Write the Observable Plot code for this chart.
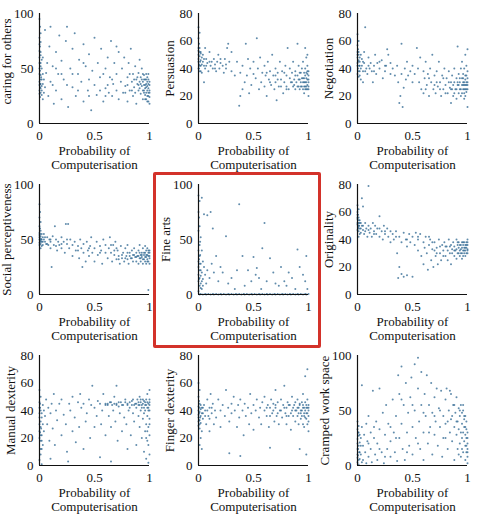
<!DOCTYPE html>
<html>
<head>
<meta charset="utf-8">
<script src="https://cdn.jsdelivr.net/npm/d3@7"></script>
<script src="https://cdn.jsdelivr.net/npm/@observablehq/plot@0.6"></script>
<style>
  html, body { margin: 0; padding: 0; background: #fff; }
  #wrap { position: relative; width: 480px; height: 515px; overflow: hidden; background: #fff; }
  .cell { position: absolute; overflow: visible; }
  #wrap svg, #wrap svg text { font-family: "Liberation Serif", "Times New Roman", serif !important; font-size: 13px !important; }
  #box { position: absolute; left: 153px; top: 172px; width: 168px; height: 176px; box-sizing: border-box; border: 3px solid #d3322a; border-radius: 2px; }
</style>
</head>
<body>
<div id="wrap"><div id="box"></div></div>
<script>
// ---- data (x = probability of computerisation, y = skill score) ----
const caring = [[0,95],[0.005,88],[0.01,82],[0,78],[0.01,74],[0.005,70],[0,66],[0.01,62],[0.02,58],[0,55],[0.01,52],[0.005,48],[0,45],[0.015,42],[0.01,40],[0,38],[0.005,36],[0.02,34],[0.01,32],[0,30],[0.01,28],[0.02,26],[0.005,24],[0.03,22],[0.01,44],[0.02,50],[0.03,60],[0,72],[0.02,30],[0.03,36],[0.04,40],[0.04,28],[0.05,33],[0.05,85],[0.06,46],[0.07,55],[0.08,25],[0.09,70],[0.1,38],[0.1,88],
[0.12,52],[0.13,18],[0.15,30],[0.15,65],[0.17,45],[0.18,80],[0.2,22],[0.2,57],[0.22,40],[0.24,75],[0.25,88],[0.26,15],[0.28,50],[0.3,33],[0.3,68],[0.32,82],[0.33,25],[0.35,45],[0.36,58],[0.38,38],[0.4,72],[0.4,20],[0.42,52],[0.44,30],[0.45,63],[0.47,12],[0.48,48],[0.5,35],[0.5,78],[0.52,26],[0.53,55],[0.55,42],[0.56,68],[0.58,20],[0.6,50],[0.6,32],[0.62,60],[0.63,28],[0.64,42],[0.65,75],[0.66,25],[0.67,36],[0.68,55],[0.7,30],[0.7,45],[0.72,65],[0.72,22],[0.74,38],[0.75,50],[0.76,28],[0.77,60],[0.78,34],[0.8,42],[0.8,20],[0.81,55],[0.82,30],[0.83,68],[0.84,38],[0.85,45],[0.85,25],[0.86,33],[0.87,52],[0.88,40],[0.88,18],[0.89,36],[0.9,30],[0.9,46],[0.91,58],[0.91,38],[0.92,27],[0.92,42],[0.93,34],[0.93,50],[0.94,22],[0.94,38],[0.95,30],[0.95,44],[0.95,35],[0.96,26],[0.96,40],[0.96,32],[0.97,28],[0.97,36],[0.97,45],[0.97,22],[0.98,30],[0.98,38],[0.98,25],[0.98,34],[0.99,28],[0.99,40],[0.99,20],[0.99,32],[0.99,36],[1,30],[1,24],[1,38],[1,18],
[0.9,35],[0.91,32],[0.92,36],[0.93,40],[0.94,30],[0.94,45],[0.95,28],[0.95,40],[0.96,35],[0.96,22],[0.97,33],[0.97,40],[0.98,20],[0.98,42],[0.99,25],[0.99,45],[1,35],[1,28],[0.89,42],[0.87,28],[0.86,40],[0.84,30],[0.82,45],[0.8,35],[0.78,28],[0,35],[0,50],[0,60],[0.01,65],[0.01,36],[0.005,33],[0.02,40],[0,27],[0.03,45],[0.01,55],[0.66,40],[0.62,35],[0.58,45],[0.55,30],[0.45,40],[0.4,55],[0.3,45],[0.25,35],[0.2,45],[0.15,50],[0.12,35],[0.35,30],[0.45,25],[0.7,70],[0.6,25]];

const persuasion = [[0,70],[0.01,66],[0,62],[0.005,58],[0.01,55],[0,53],[0.02,51],[0.01,49],[0,47],[0.015,45],[0.005,43],[0.02,42],[0,40],[0.01,38],[0.03,37],[0.02,52],[0.03,48],[0.04,45],[0.05,42],[0.04,50],[0.06,40],[0.07,47],[0.06,55],[0.08,44],[0.05,30],[0.09,38],[0.1,52],[0.11,42],[0.12,45],[0.13,40],[0.14,47],[0.15,43],[0.16,38],[0.17,45],[0.18,50],[0.19,40],[0.2,44],[0.22,42],[0.23,37],[0.24,47],[0.25,40],[0.26,55],[0.27,58],[0.28,45],[0.3,38],[0.3,52],
[0.33,35],[0.35,45],[0.37,13],[0.38,20],[0.38,37],[0.4,25],[0.4,42],[0.42,30],[0.43,58],[0.44,35],[0.45,47],[0.46,22],[0.47,40],[0.48,28],[0.5,36],[0.5,45],
[0.52,33],[0.53,62],[0.54,40],[0.55,25],[0.56,48],[0.57,30],[0.58,37],[0.6,42],[0.6,27],[0.61,35],[0.62,20],[0.63,45],[0.64,32],[0.65,38],[0.66,28],[0.67,50],[0.68,35],[0.69,25],[0.7,40],[0.7,30],[0.71,17],[0.72,37],[0.73,27],[0.74,45],[0.75,32],[0.76,38],[0.77,22],[0.78,30],[0.79,42],[0.8,27],[0.8,35],[0.81,55],[0.82,25],[0.83,40],[0.84,30],[0.85,37],
[0.86,27],[0.86,45],[0.87,32],[0.88,25],[0.88,38],[0.89,30],[0.9,35],[0.9,58],[0.91,27],[0.91,42],[0.92,32],[0.92,25],[0.93,37],[0.93,30],[0.94,27],[0.94,40],[0.95,33],[0.95,25],[0.95,45],[0.96,30],[0.96,37],[0.96,22],[0.97,27],[0.97,35],[0.97,40],[0.98,30],[0.98,25],[0.98,33],[0.98,48],[0.99,28],[0.99,36],[0.99,32],[0.99,42],[1,30],[1,25],[1,35],[1,38],[1,20],[0.97,55],[0.99,50],
[0.9,27],[0.91,32],[0.92,37],[0.93,27],[0.94,33],[0.95,30],[0.96,27],[0.96,33],[0.97,30],[0.97,25],[0.98,37],[0.98,27],[0.99,25],[0.99,38],[1,27],[1,32],[0.88,35],[0.87,28],[0.85,30],[0.83,33],[0.8,25],[0.78,37],[0.75,27],[0.72,32],[0.7,35],[0.65,30],[0.62,37],[0,45],[0,50],[0.01,42],[0.01,52],[0.005,40],[0.02,46],[0,55],[0.02,38],[0.03,43],[0.05,47],[0.07,42],[0.1,45],[0.15,40],[0.2,47],[0.25,43]];

const negotiation = [[0,65],[0.01,60],[0,57],[0.005,54],[0.01,52],[0,50],[0.02,48],[0.01,46],[0,44],[0.015,42],[0.005,40],[0.02,38],[0,36],[0.01,34],[0.03,32],[0.02,45],[0.03,50],[0.04,42],[0.05,38],[0.04,47],[0.06,44],[0.07,70],[0.06,52],[0.08,40],[0.05,30],[0.09,36],[0.1,48],[0.11,40],[0.12,44],[0.13,38],[0.14,30],[0.15,42],[0.16,50],[0.17,36],[0.18,44],[0.2,40],[0.22,46],[0.23,33],[0.25,38],[0.26,42],[0.27,54],[0.28,50],[0.3,36],[0.3,44],[0.32,40],[0.34,35],
[0.36,42],[0.37,30],[0.38,15],[0.39,20],[0.4,58],[0.4,36],[0.41,12],[0.42,26],[0.43,40],[0.44,32],[0.45,45],[0.46,35],[0.48,38],[0.5,30],[0.5,42],
[0.52,36],[0.54,55],[0.55,40],[0.56,30],[0.57,48],[0.58,25],[0.6,38],[0.6,22],[0.61,33],[0.62,45],[0.63,28],[0.64,36],[0.65,20],[0.66,40],[0.67,30],[0.68,50],[0.69,25],[0.7,35],[0.71,22],[0.72,38],[0.73,27],[0.74,45],[0.75,30],[0.76,20],[0.77,35],[0.78,25],[0.79,40],[0.8,28],[0.81,33],[0.82,22],[0.83,38],[0.84,26],[0.85,30],[0.85,15],
[0.86,35],[0.86,25],[0.87,20],[0.88,30],[0.88,40],[0.89,25],[0.9,33],[0.9,18],[0.91,28],[0.91,56],[0.92,22],[0.92,36],[0.93,30],[0.93,25],[0.94,40],[0.94,20],[0.95,28],[0.95,33],[0.95,45],[0.96,25],[0.96,30],[0.96,36],[0.97,22],[0.97,28],[0.97,40],[0.98,25],[0.98,32],[0.98,20],[0.98,50],[0.99,28],[0.99,35],[0.99,23],[0.99,42],[1,30],[1,25],[1,12],[1,38],[1,54],[0.97,18],
[0.9,25],[0.91,30],[0.92,28],[0.93,33],[0.94,25],[0.95,22],[0.96,28],[0.96,33],[0.97,25],[0.97,30],[0.98,28],[0.98,35],[0.99,25],[0.99,30],[1,28],[1,33],[0.88,22],[0.87,28],[0.85,25],[0.83,30],[0.8,22],[0.78,33],[0.75,25],[0.72,30],[0.7,28],[0.65,33],[0.62,25],[0,42],[0,48],[0.01,38],[0.01,50],[0.005,45],[0.02,42],[0,52],[0.02,35],[0.03,40],[0.05,45],[0.07,38],[0.1,42],[0.15,38],[0.2,45],[0.25,42]];

const socialPerceptiveness = [[0,82],[0.005,75],[0,70],[0.01,66],[0,62],[0.005,60],[0.01,58],[0,56],[0.02,55],[0.01,53],[0,52],[0.015,50],[0.005,49],[0.02,48],[0,47],[0.01,46],[0.03,45],[0.02,44],[0.01,42],[0.03,52],[0.04,50],[0.05,48],[0.04,55],[0.06,46],[0.07,52],[0.08,45],[0.09,50],[0.1,48],[0.1,42],[0.11,25],[0.12,53],[0.13,45],[0.14,62],[0.15,50],[0.16,40],[0.17,48],[0.18,45],[0.2,52],[0.2,42],[0.22,48],[0.23,38],[0.24,64],[0.25,46],[0.26,64],[0.27,42],[0.28,50],[0.3,45],[0.3,35],
[0.32,48],[0.33,40],[0.35,44],[0.36,33],[0.37,50],[0.38,42],[0.39,25],[0.4,46],[0.4,38],[0.42,30],[0.43,48],[0.44,40],[0.45,35],[0.46,44],[0.47,52],[0.48,38],[0.5,42],[0.5,30],[0.52,48],[0.53,36],[0.55,44],[0.56,40],[0.57,28],[0.58,50],[0.6,38],[0.6,45],
[0.62,33],[0.63,42],[0.64,52],[0.65,38],[0.66,30],[0.67,45],[0.68,36],[0.69,48],[0.7,32],[0.71,40],[0.72,35],[0.73,28],[0.74,44],[0.75,33],[0.76,38],[0.77,30],[0.78,42],[0.79,35],[0.8,32],[0.8,45],[0.81,28],[0.82,38],[0.83,33],[0.84,40],[0.85,30],[0.85,36],[0.86,42],[0.87,34],[0.88,30],[0.88,38],[0.89,35],[0.9,28],[0.9,40],[0.91,33],[0.91,45],[0.92,36],[0.92,30],[0.93,38],[0.93,34],[0.94,28],[0.94,42],[0.95,36],[0.95,32],[0.96,38],[0.96,30],[0.96,44],[0.97,34],[0.97,28],[0.97,40],[0.98,36],[0.98,32],[0.98,42],[0.99,35],[0.99,30],[0.99,38],[1,33],[1,40],[1,28],[0.99,4],
[0.9,35],[0.91,38],[0.92,33],[0.93,36],[0.94,32],[0.95,38],[0.96,34],[0.97,36],[0.98,30],[0.99,40],[1,35],[1,38],[0.88,34],[0.86,36],[0.84,33],[0.82,35],[0.8,38],[0.78,33],[0.75,36],[0.72,32],[0.7,42],[0.68,40],[0.65,45],[0,50],[0,54],[0.01,48],[0.01,51],[0.005,55],[0.02,50],[0,45],[0.03,48],[0.05,52],[0.07,46],[0.1,50],[0.15,44],[0.2,46],[0.25,50],[0.35,40],[0.45,42],[0.55,38]];

const fineArts = [[0,90],[0.01,85],[0,75],[0.005,70],[0.01,62],[0,58],[0.02,52],[0.01,45],[0,40],[0.015,36],[0.005,32],[0.02,28],[0,25],[0.01,22],[0.03,20],[0.02,17],[0.01,15],[0,12],[0.02,10],[0.01,8],[0.03,5],[0.04,30],[0.05,25],[0.04,14],[0.06,18],[0.07,10],[0.08,22],[0.03,88],[0.05,73],[0.08,72],[0.11,75],[0.13,60],[0.1,15],[0.12,28],[0.14,20],[0.16,35],[0.18,12],[0.2,25],[0.22,20],[0.25,53],[0.27,10],[0.3,15],[0.33,5],[0.35,22],[0.37,82],[0.4,35],[0.42,8],[0.45,22],[0.48,12],[0.5,34],[0.52,18],[0.53,24],[0.55,15],[0.57,5],[0.58,42],[0.6,65],[0.62,12],[0.65,33],[0.68,20],[0.7,10],[0.73,8],[0.75,25],[0.78,12],[0.8,8],[0.82,20],[0.85,15],[0.88,5],[0.9,41],[0.92,25],[0.95,18],[0.97,12],[0.98,35],[0.99,5],
[0,30],[0,18],[0.01,28],[0.01,35],[0.02,22],[0.005,14],[0.02,6],[0,3],[0.03,12],[0.04,8],[0.015,48],[0.03,40],
[0.01,0],[0.02,0.5],[0.04,0],[0.06,0.5],[0.07,0],[0.09,0.5],[0.11,0],[0.13,0.5],[0.14,0],[0.16,0.5],[0.18,0],[0.2,0.5],[0.21,0],[0.23,0.5],[0.25,0],[0.27,0.5],[0.28,0],[0.3,0.5],[0.32,0],[0.34,0.5],[0.35,0],[0.37,0.5],[0.39,0],[0.41,0.5],[0.42,0],[0.44,0.5],[0.46,0],[0.48,0.5],[0.49,0],[0.51,0.5],[0.53,0],[0.55,0.5],[0.56,0],[0.58,0.5],[0.6,0],[0.62,0.5],[0.63,0],[0.65,0.5],[0.67,0],[0.69,0.5],[0.7,0],[0.72,0.5],[0.74,0],[0.76,0.5],[0.77,0],[0.79,0.5],[0.81,0],[0.83,0.5],[0.84,0],[0.86,0.5],[0.88,0],[0.9,0.5],[0.91,0],[0.93,0.5],[0.95,0],[0.97,0.5],[0.98,0],[1,0.5]];

const originality = [[0,65],[0.01,62],[0,60],[0.005,58],[0.01,56],[0,55],[0.02,54],[0.01,52],[0,51],[0.015,50],[0.005,49],[0.02,48],[0,47],[0.01,46],[0.03,45],[0.02,44],[0.01,42],[0.03,52],[0.04,70],[0.05,64],[0.04,50],[0.05,47],[0.06,44],[0.07,52],[0.08,48],[0.09,42],[0.1,79],[0.1,50],[0.11,45],[0.12,48],[0.13,42],[0.14,52],[0.15,46],[0.16,50],[0.17,44],[0.18,48],[0.2,42],[0.2,57],[0.22,46],[0.23,40],[0.24,50],[0.25,44],[0.27,48],[0.28,42],[0.3,46],[0.3,38],
[0.32,44],[0.33,40],[0.35,46],[0.36,30],[0.37,12],[0.38,20],[0.38,42],[0.4,15],[0.4,38],[0.42,13],[0.42,45],[0.44,40],[0.45,14],[0.45,35],[0.47,44],[0.48,38],[0.5,13],[0.5,42],[0.52,36],[0.53,45],[0.55,40],[0.55,32],
[0.57,44],[0.58,28],[0.6,38],[0.6,22],[0.61,34],[0.62,42],[0.63,30],[0.64,18],[0.65,36],[0.66,40],[0.67,25],[0.68,33],[0.69,20],[0.7,38],[0.71,28],[0.72,34],[0.73,22],[0.74,40],[0.75,30],[0.76,25],[0.77,36],[0.78,32],[0.79,38],[0.8,28],
[0.81,35],[0.82,25],[0.83,40],[0.84,30],[0.85,36],[0.85,22],[0.86,33],[0.87,38],[0.88,28],[0.88,35],[0.89,32],[0.9,40],[0.9,26],[0.91,36],[0.91,30],[0.92,34],[0.92,38],[0.93,28],[0.93,32],[0.94,36],[0.94,30],[0.95,34],[0.95,38],[0.95,26],[0.96,32],[0.96,36],[0.96,28],[0.97,34],[0.97,30],[0.97,38],[0.98,32],[0.98,36],[0.98,28],[0.99,34],[0.99,30],[0.99,38],[1,33],[1,36],[1,30],[1,40],
[0.9,33],[0.91,38],[0.92,30],[0.93,36],[0.94,33],[0.95,30],[0.96,38],[0.97,32],[0.98,34],[0.99,36],[1,32],[1,38],[0.88,32],[0.86,30],[0.84,35],[0.82,32],[0.8,35],[0.78,28],[0.75,35],[0.72,30],[0.7,32],[0.68,38],[0.65,42],[0,52],[0,56],[0.01,50],[0.01,54],[0.005,48],[0.02,52],[0,58],[0.03,48],[0.05,50],[0.07,46],[0.1,47],[0.15,44],[0.2,48],[0.25,46],[0.35,42],[0.45,40],[0.55,42]];

const manualDexterity = [[0,55],[0.01,50],[0,46],[0.005,42],[0.01,40],[0,38],[0.02,35],[0.01,32],[0,30],[0.015,27],[0.005,24],[0.02,22],[0,20],[0.01,18],[0.03,15],[0.02,12],[0.01,8],[0,4],[0.02,1],[0.03,44],[0.04,40],[0.05,36],[0.04,25],[0.06,48],[0.07,30],[0.08,42],[0.09,18],[0.1,5],[0.1,38],[0.11,45],[0.12,27],[0.13,52],[0.14,15],[0.15,40],[0.16,33],[0.18,45],[0.2,22],[0.2,48],[0.22,37],[0.24,30],[0.25,10],[0.26,3],[0.27,45],[0.28,40],[0.3,25],[0.3,50],
[0.32,35],[0.33,17],[0.35,46],[0.36,28],[0.37,52],[0.38,42],[0.4,12],[0.4,45],[0.42,32],[0.43,38],[0.45,48],[0.46,20],[0.47,44],[0.48,58],[0.5,28],[0.5,42],[0.52,36],[0.53,47],[0.55,6],[0.55,45],[0.56,30],[0.57,40],[0.58,52],[0.6,45],[0.6,22],
[0.62,44],[0.63,36],[0.64,46],[0.65,3],[0.65,28],[0.66,44],[0.67,40],[0.68,50],[0.69,32],[0.7,45],[0.7,58],[0.71,18],[0.72,43],[0.73,38],[0.74,46],[0.75,25],[0.76,44],[0.77,35],[0.78,48],[0.79,30],[0.8,45],[0.8,12],[0.81,40],[0.82,46],[0.83,22],[0.84,44],[0.85,38],[0.85,48],[0.86,32],[0.87,45],[0.88,15],[0.88,42],[0.89,48],[0.9,36],[0.9,44],[0.91,28],[0.91,50],[0.92,40],[0.92,46],[0.93,20],[0.93,44],[0.94,34],[0.94,48],[0.95,10],[0.95,42],[0.95,38],[0.96,46],[0.96,25],[0.96,44],[0.97,30],[0.97,48],[0.97,5],[0.98,42],[0.98,36],[0.98,52],[0.98,18],[0.99,45],[0.99,28],[0.99,40],[0.99,2],[1,44],[1,34],[1,48],[1,22],[1,8],[1,55],
[0.9,46],[0.91,44],[0.92,48],[0.93,42],[0.94,45],[0.95,47],[0.96,40],[0.97,44],[0.98,46],[0.99,42],[1,46],[1,40],[0.88,45],[0.86,44],[0.84,47],[0.82,42],[0.8,44],[0.78,46],[0.75,44],[0.72,46],[0.7,44],[0.68,45],[0.65,46],[0.62,45],[0.6,44],[0,25],[0,35],[0.01,22],[0.01,28],[0.005,45],[0.02,38],[0,42],[0.03,30],[0.01,12],[0.02,18],[0.99,15],[0.98,25],[1,30],[0.97,20]];

const fingerDexterity = [[0,60],[0.01,55],[0,50],[0.005,47],[0.01,45],[0,43],[0.02,41],[0.01,39],[0,37],[0.015,35],[0.005,33],[0.02,31],[0,29],[0.01,27],[0.03,25],[0.02,20],[0.01,15],[0.03,12],[0.03,42],[0.04,38],[0.05,44],[0.04,34],[0.06,40],[0.07,30],[0.08,48],[0.09,36],[0.1,42],[0.1,25],[0.11,52],[0.12,38],[0.13,45],[0.14,30],[0.15,40],[0.16,35],[0.18,48],[0.2,40],[0.2,28],[0.22,44],[0.24,36],[0.25,55],[0.27,42],[0.28,9],[0.28,32],[0.3,45],[0.3,38],
[0.32,50],[0.33,40],[0.35,28],[0.36,44],[0.37,35],[0.38,7],[0.38,48],[0.4,40],[0.41,22],[0.42,45],[0.43,36],[0.45,42],[0.46,30],[0.47,52],[0.48,38],[0.5,44],[0.5,26],[0.52,40],[0.53,48],[0.55,35],[0.56,42],[0.57,30],[0.58,46],[0.6,40],[0.6,50],
[0.62,36],[0.63,44],[0.64,28],[0.65,13],[0.65,42],[0.66,48],[0.67,38],[0.68,45],[0.69,32],[0.7,55],[0.7,42],[0.71,36],[0.72,46],[0.73,30],[0.74,40],[0.75,48],[0.76,35],[0.77,44],[0.78,58],[0.79,38],[0.8,42],[0.8,30],[0.81,46],[0.82,36],[0.83,44],[0.84,26],[0.85,40],[0.85,50],[0.86,36],[0.87,44],[0.88,32],[0.88,46],[0.89,40],[0.9,36],[0.9,48],[0.91,30],[0.91,42],[0.92,12],[0.92,45],[0.93,38],[0.93,34],[0.94,46],[0.94,40],[0.95,30],[0.95,44],[0.95,52],[0.96,36],[0.96,42],[0.96,28],[0.97,65],[0.97,40],[0.97,46],[0.98,8],[0.98,34],[0.98,44],[0.98,38],[0.99,70],[0.99,42],[0.99,30],[0.99,48],[1,36],[1,44],[1,40],[1,25],
[0.9,42],[0.91,38],[0.92,44],[0.93,40],[0.94,36],[0.95,42],[0.96,38],[0.97,35],[0.98,42],[0.99,38],[1,42],[1,32],[0.88,40],[0.86,42],[0.84,38],[0.82,44],[0.8,36],[0.78,42],[0.75,40],[0.72,38],[0.7,44],[0.68,40],[0.65,36],[0.62,42],[0,35],[0,40],[0.01,33],[0.01,42],[0.005,38],[0.02,36],[0,32],[0.03,38],[0.01,30],[0.02,44],[0.04,42],[0.06,36],[0.08,40],[0.1,34],[0.12,42]];

const crampedWorkSpace = [[0,40],[0.01,36],[0,33],[0.005,30],[0.01,27],[0,24],[0.02,21],[0.01,18],[0,15],[0.015,12],[0.005,9],[0.02,6],[0,3],[0.01,1],[0.03,25],[0.03,10],[0.04,73],[0.04,35],[0.05,18],[0.05,5],[0.06,28],[0.07,12],[0.08,38],[0.08,2],[0.09,22],[0.1,8],[0.1,45],[0.12,15],[0.12,30],[0.13,3],[0.14,68],[0.15,25],[0.16,10],[0.17,40],[0.18,5],[0.18,20],[0.2,33],[0.2,70],[0.22,12],[0.23,48],[0.24,2],[0.25,28],[0.26,55],[0.27,15],[0.28,38],[0.3,8],[0.3,22],
[0.32,60],[0.33,30],[0.34,12],[0.35,45],[0.36,4],[0.37,82],[0.38,65],[0.38,25],[0.4,90],[0.4,38],[0.41,15],[0.42,55],[0.43,5],[0.44,75],[0.45,30],[0.46,48],[0.47,18],[0.48,62],[0.49,80],[0.5,35],[0.5,10],[0.52,92],[0.52,50],[0.53,25],[0.55,98],[0.55,70],[0.56,40],[0.57,15],[0.58,85],[0.58,55],[0.6,30],[0.6,5],
[0.61,65],[0.62,45],[0.63,82],[0.64,20],[0.65,55],[0.66,35],[0.67,75],[0.68,10],[0.68,48],[0.7,62],[0.7,28],[0.71,40],[0.72,70],[0.73,18],[0.74,52],[0.75,35],[0.76,68],[0.77,8],[0.78,45],[0.78,25],[0.8,60],[0.8,38],[0.81,70],[0.82,15],[0.83,50],[0.84,30],[0.85,65],[0.85,42],[0.86,22],[0.87,55],[0.88,35],[0.88,5],[0.89,48],[0.9,62],[0.9,28],[0.91,40],[0.91,15],[0.92,52],[0.92,33],[0.93,45],[0.93,20],[0.94,55],[0.94,8],[0.95,38],[0.95,48],[0.95,25],[0.96,50],[0.96,30],[0.96,12],[0.97,42],[0.97,22],[0.97,35],[0.98,45],[0.98,18],[0.98,28],[0.98,5],[0.99,40],[0.99,25],[0.99,12],[0.99,33],[1,20],[1,30],[1,8],[1,2],[1,15],
[0,20],[0,10],[0.01,30],[0.01,5],[0.005,15],[0.02,12],[0,7],[0.02,28],[0.03,18],[0.04,3],[0.99,18],[0.98,35],[1,25],[1,12],[0.97,45],[0.96,55],[0.95,15],[0.94,30],[0.93,50],[0.92,10],[0.9,40],[0.88,55],[0.86,45],[0.84,68],[0.82,40],[0.8,25],[0.75,50],[0.7,45],[0.65,30],[0.6,48],[0.55,20],[0.5,55],[0.45,12],[0.4,60],[0.35,25],[0.3,35],[0.25,8],[0.2,15],[0.15,35],[0.1,20]];

const panelData = [caring, persuasion, negotiation, socialPerceptiveness, fineArts, originality, manualDexterity, fingerDexterity, crampedWorkSpace];
const yLabels = ["caring for others", "Persuasion", "Negotiation", "Social perceptiveness", "Fine arts", "Originality", "Manual dexterity", "Finger dexterity", "Cramped work space"];
const yTicks100 = [0, 50, 100];
const yTicks80 = [0, 20, 40, 60, 80];
const panelYTicks = [yTicks100, yTicks80, yTicks80, yTicks100, yTicks100, yTicks80, yTicks80, yTicks80, yTicks100];
const xTicks = [0, 0.5, 1];
const xLabel = "Probability of\nComputerisation";

const wrap = document.getElementById("wrap");
const box = document.getElementById("box");
panelData.forEach((pts, i) => {
  const col = i % 3, row = Math.floor(i / 3);
  const ticks = panelYTicks[i];
  const ymax = ticks[ticks.length - 1];
  const chart = Plot.plot({
    width: 159, height: 171,
    marginLeft: 39, marginRight: 10, marginTop: 13, marginBottom: 48,
    style: { background: "transparent", color: "#111", overflow: "visible" },
    x: { domain: [0, 1] },
    y: { domain: [0, ymax] },
    marks: [
      Plot.dot(pts, { x: d => d[0], y: d => d[1], r: 1, fill: "#2c6690", fillOpacity: 0.75, stroke: null }),
      Plot.axisX({ ticks: xTicks, tickSize: 0, tickPadding: 7, label: null, tickFormat: d => String(d) }),
      Plot.axisY({ ticks: ticks, tickSize: 0, tickPadding: 6, label: null }),
      Plot.ruleX([0], { stroke: "#111", strokeWidth: 1.2 }),
      Plot.ruleY([0], { stroke: "#111", strokeWidth: 1.2 }),
      Plot.text([xLabel], { frameAnchor: "bottom", dy: 22, lineAnchor: "top", lineHeight: 1.05, text: d => d, fill: "#111" }),
      Plot.text([yLabels[i]], { frameAnchor: "left", rotate: -90, textAnchor: "middle", lineAnchor: "middle", dx: ymax === 100 ? -33 : -29, dy: i === 0 ? -7 : 0, text: d => d, fill: "#111" })
    ]
  });
  chart.classList.add("cell");
  chart.style.left = (col * 159) + "px";
  chart.style.top = (row * 171) + "px";
  wrap.insertBefore(chart, box);
});
</script>
</body>
</html>
